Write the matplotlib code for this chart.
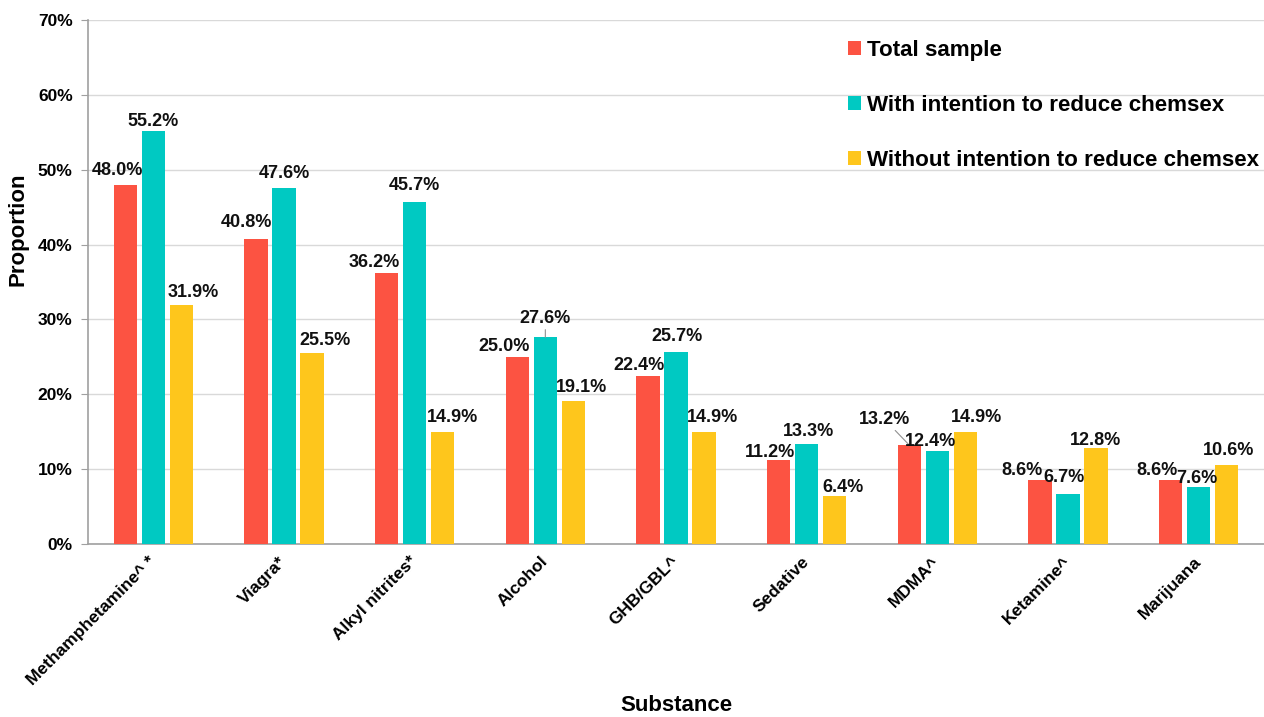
import numpy as np
import matplotlib.pyplot as plt

plt.rcParams['font.family'] = ['Liberation Sans', 'DejaVu Sans']
plt.rcParams['font.weight'] = 'bold'

substances = ['Methamphetamine^ *', 'Viagra*', 'Alkyl nitrites*', 'Alcohol', 'GHB/GBL^',
              'Sedative', 'MDMA^', 'Ketamine^', 'Marijuana']
total     = [48.0, 40.8, 36.2, 25.0, 22.4, 11.2, 13.2, 8.6, 8.6]
with_int  = [55.2, 47.6, 45.7, 27.6, 25.7, 13.3, 12.4, 6.7, 7.6]
without   = [31.9, 25.5, 14.9, 19.1, 14.9, 6.4, 14.9, 12.8, 10.6]

series = [('Total sample', total, '#FC5342'),
          ('With intention to reduce chemsex', with_int, '#00C9C2'),
          ('Without intention to reduce chemsex', without, '#FEC61C')]

# label offsets in pixels (dx, dy from bar top to text centre), one list per series
label_dx = [[-8, -10, -12, -13, -9, -9, -25, -18, -14],
            [0, 0, 0, 0, 1, 2, -7, -4, -2],
            [12, 13, 10, 8, 9, 8, 11, 0, 2]]
label_dy = [[14, 16, 11, 10, 11, 8, 26, 9, 9],
            [9, 14, 16, 19, 15, 13, 10, 16, 9],
            [13, 13, 15, 14, 15, 9, 15, 8, 14]]
# labels that get a thin leader line back to the bar
leaders = {(1, 3), (0, 6)}

fig = plt.figure(figsize=(12.64, 7.17), dpi=100)
ax = fig.add_axes([88/1264, 1 - 544/717, 1 - 88/1264, 524/717])

x = np.arange(len(substances))
step = 0.214
width = 0.18

for i, (name, vals, col) in enumerate(series):
    pos = x + (i - 1) * step
    ax.bar(pos, vals, width=width, color=col, label=name, zorder=3)
    for j, v in enumerate(vals):
        arrow = None
        if (i, j) in leaders:
            arrow = dict(arrowstyle='-', color='#909090', lw=0.8, shrinkA=0, shrinkB=0)
        ax.annotate(f'{v:.1f}%', xy=(pos[j], v), xytext=(label_dx[i][j], label_dy[i][j]),
                    textcoords='offset pixels', ha='center', va='center',
                    fontsize=13, fontweight='bold', color='#111111',
                    arrowprops=arrow, zorder=4)

ax.set_xlim(-0.5, len(substances) - 0.5)
ax.set_ylim(0, 70)
ax.set_yticks(np.arange(0, 71, 10))
ax.set_yticklabels([f'{t}%' for t in range(0, 71, 10)], fontsize=12.5, fontweight='bold')
ax.set_xticks(x)
ax.set_xticklabels(substances, rotation=45, ha='right', va='center',
                   rotation_mode='anchor', fontsize=12.5, fontweight='bold')
ax.tick_params(axis='x', length=0, pad=11)
ax.tick_params(axis='y', length=5, color='#A0A0A0', pad=6)

ax.grid(axis='y', color='#D9D9D9', linewidth=1, zorder=0)
for s in ['top', 'right']:
    ax.spines[s].set_visible(False)
for s in ['left', 'bottom']:
    ax.spines[s].set_color('#A0A0A0')
    ax.spines[s].set_linewidth(1.2)

ax.set_ylabel('Proportion', fontsize=16, fontweight='bold')
ax.yaxis.set_label_coords(-0.051, 0.6)
ax.set_xlabel('Substance', fontsize=16, fontweight='bold')
ax.xaxis.set_label_coords(0.5, -0.288)

ax.legend(loc='upper left', bbox_to_anchor=(0.646, 0.962), frameon=False,
          handlelength=0.6, handleheight=0.6, handletextpad=0.25,
          labelspacing=1.52, borderpad=0, borderaxespad=0,
          prop={'weight': 'bold', 'size': 16.1})

fig.savefig('out.png', dpi=100)
